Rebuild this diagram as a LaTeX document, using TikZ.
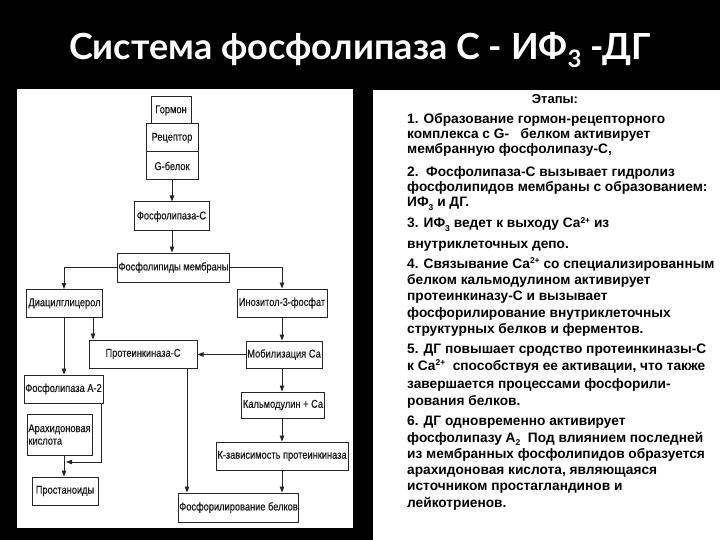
\documentclass[tikz,border=0pt]{standalone}
\usepackage{fontspec}
\setmainfont{Liberation Sans}
\newfontfamily\fcfont[FakeStretch=0.82,FakeBold=0.4]{Liberation Sans}
\newfontfamily\titlefont{Lato}
\usetikzlibrary{arrows.meta}
\newcommand{\subthree}[1]{\raisebox{-3.5pt}{\fontsize{8.5}{9}\selectfont #1}}
\newcommand{\suptwo}{\raisebox{5pt}{\fontsize{8.5}{9}\selectfont 2+}}
\begin{document}
\begin{tikzpicture}[x=1pt,y=-1pt,
  box/.style={draw=black!85, line width=1pt, fill=white, inner sep=1pt,
    font=\fcfont\fontsize{11.3}{12.5}\selectfont, text=black!90},
  arr/.style={draw=black!85, line width=0.9pt, -{Triangle[length=6pt,width=4.5pt]}},
  ln/.style={font=\bfseries\fontsize{13.7}{16}\selectfont, anchor=base west, inner sep=0pt, text=black}
]
\useasboundingbox (0,0) rectangle (720,540);
\fill[black] (0,0) rectangle (720,540);
\fill[white] (17,89) rectangle (353,528);
\fill[white] (373,90) rectangle (720,540);

% title
\node[text=white, font=\titlefont\bfseries\fontsize{36}{40}\selectfont, anchor=base] (title) at (360,60)
  {Система фосфолипаза С - ИФ\raisebox{-8pt}{\fontsize{24}{24}\selectfont 3} -ДГ};

% flowchart boxes
\node[box, minimum width=40pt, minimum height=27pt] (horm) at (171,110.5) {Гормон};
\node[box, minimum width=52pt, minimum height=28pt] (rec) at (172,138) {Рецептор};
\node[box, minimum width=52pt, minimum height=28pt] (gbel) at (172,166) {G-белок};
\node[box, minimum width=75pt, minimum height=29pt] (flc) at (171.5,216.5) {Фосфолипаза-С};
\node[box, minimum width=111pt, minimum height=29pt] (fm) at (173.5,267.5) {Фосфолипиды мембраны};
\node[box, minimum width=76pt, minimum height=28pt] (dag) at (64.5,303.5) {Диацилглицерол};
\node[box, minimum width=90pt, minimum height=28pt] (ino) at (282,303) {Инозитол-3-фосфат};
\node[box, minimum width=108pt, minimum height=28pt] (pkc) at (143,354) {Протеинкиназа-С};
\node[box, minimum width=76pt, minimum height=27pt] (mob) at (284,354.5) {Мобилизация Са};
\node[box, minimum width=79pt, minimum height=28pt] (fa2) at (63.5,389) {Фосфолипаза А-2};
\node[box, minimum width=65pt, minimum height=41pt, align=left] (ara) at (59.5,434.5) {Арахидоновая\\кислота};
\node[box, minimum width=80pt, minimum height=26pt] (kal) at (283,405) {Кальмодулин + Са};
\node[box, minimum width=132pt, minimum height=28pt] (kzav) at (282,456) {К-зависимость протеинкиназа};
\node[box, minimum width=66pt, minimum height=28pt] (pro) at (65,491) {Простаноиды};
\node[box, minimum width=119pt, minimum height=29pt] (fos) at (238.5,507.5) {Фосфорилирование белков};
\coordinate (j) at (64,462);

% connectors
\draw[arr] (gbel.south) -- (gbel.south |- flc.north);
\draw[arr] (gbel.south |- flc.south) -- (gbel.south |- fm.north);
\draw[arr] (fm.east) -| (ino.north);
\draw[arr] (fm.west) -| (j |- dag.north);
\draw[arr] (ino.south) -- (ino.south |- mob.north);
\draw[arr] (mob.west) -- (pkc.east |- mob.west);
\draw[arr] ([xshift=28.5pt]dag.south) -- ([xshift=28.5pt]dag.south |- pkc.north);
\draw[arr] (j |- dag.south) -- (j |- fa2.north);
\draw[arr] (ino.south |- mob.south) -- (ino.south |- kal.north);
\draw[arr] (ino.south |- kal.south) -- (ino.south |- kzav.north);
\draw[arr] (ino.south |- kzav.south) -- (ino.south |- fos.north);
\draw[arr] ([xshift=44pt]pkc.south) -- ([xshift=44pt]pkc.south |- fos.north);
\draw[arr] (j |- ara.south) -- (j |- pro.north);
\draw[arr, shorten >=2pt] ([xshift=-2pt]fa2.south east) |- (j);

% right text
\node[font=\bfseries\fontsize{13}{16}\selectfont, anchor=base, inner sep=0pt] (et) at (555,104) {Этапы:};
\node[ln] (l1) at (407,124) {1. Образование гормон-рецепторного};
\node[ln] (l2) at (407,139) {комплекса с G-\ \ \ белком активирует};
\node[ln] (l3) at (407,154) {мембранную фосфолипазу-С,};
\node[ln] (l4) at (407,177) {2.\ \ Фосфолипаза-С вызывает гидролиз};
\node[ln] (l5) at (407,192) {фосфолипидов мембраны с образованием:};
\node[ln] (l6) at (407,207) {ИФ\subthree{3} и ДГ.};
\node[ln] (l7) at (407,228) {3. ИФ\subthree{3} ведет к выходу Са\suptwo{} из};
\node[ln] (l8) at (407,248) {внутриклеточных депо.};
\node[ln] (l9) at (407,268) {4. Связывание Са\suptwo{} со специализированным};
\node[ln] (l10) at (407,284) {белком кальмодулином активирует};
\node[ln] (l11) at (407,300) {протеинкиназу-С и вызывает};
\node[ln] (l12) at (407,317) {фосфорилирование внутриклеточных};
\node[ln] (l13) at (407,333) {структурных белков и ферментов.};
\node[ln] (l14) at (407,353) {5. ДГ повышает сродство протеинкиназы-С};
\node[ln] (l15) at (407,370) {к Са\suptwo\ \ способствуя ее активации, что также};
\node[ln] (l16) at (407,388) {завершается процессами фосфорили-};
\node[ln] (l17) at (407,405) {рования белков.};
\node[ln] (l18) at (407,425) {6. ДГ одновременно активирует};
\node[ln] (l19) at (407,442) {фосфолипазу А\subthree{2}\ \ Под влиянием последней};
\node[ln] (l20) at (407,458) {из мембранных фосфолипидов образуется};
\node[ln] (l21) at (407,474) {арахидоновая кислота, являющаяся};
\node[ln] (l22) at (407,490) {источником простагландинов и};
\node[ln] (l23) at (407,507) {лейкотриенов.};
\end{tikzpicture}
\end{document}
